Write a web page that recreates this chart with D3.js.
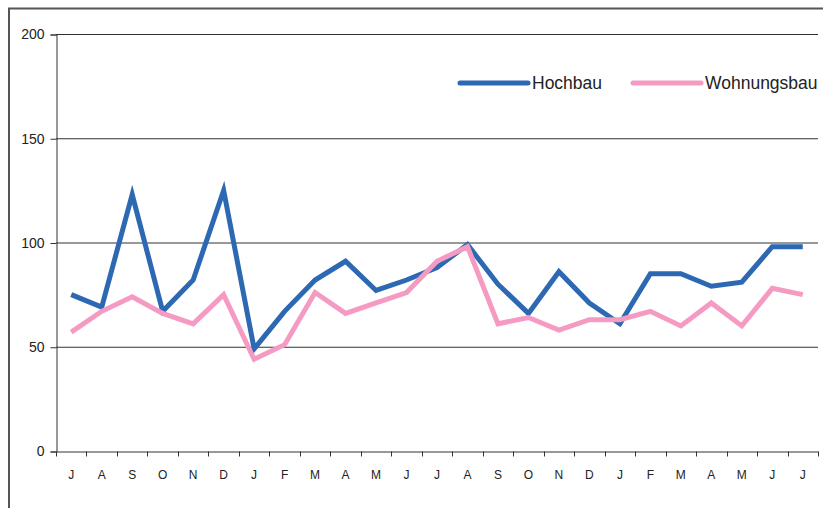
<!DOCTYPE html>
<html>
<head>
<meta charset="utf-8">
<script src="https://cdn.jsdelivr.net/npm/d3@7"></script>
<style>
  body { margin: 0; background: #fff; }
  text { font-family: "Liberation Sans", Arial, sans-serif; fill: #222; }
</style>
</head>
<body>
<svg id="chart" width="823" height="508"></svg>
<script>
// month initials, Jul .. Jul (25 months)
const months = ["J","A","S","O","N","D","J","F","M","A","M","J","J","A","S","O","N","D","J","F","M","A","M","J","J"];
const hochbau = [75, 69, 123, 67, 82, 125, 49, 67, 82, 91, 77, 82, 88, 99, 80, 66, 86, 71, 61, 85, 85, 79, 81, 98, 98];
const wohnungsbau = [57, 67, 74, 66, 61, 75, 44, 51, 76, 66, 71, 76, 91, 98, 61, 64, 58, 63, 63, 67, 60, 71, 60, 78, 75];
const yTicks = [0, 50, 100, 150, 200];
const seriesNames = ["Hochbau", "Wohnungsbau"];
const seriesColors = ["#2d68b2", "#f59bc3"];

const svg = d3.select("#chart");
const plotLeft = 56, plotRight = 818, plotTop = 34, plotBottom = 451;

// outer frame (only top and left edges are visible)
svg.append("path")
  .attr("d", "M9,509 L9,8.5 L824,8.5")
  .attr("fill", "none").attr("stroke", "#555").attr("stroke-width", 2);

const x = d3.scaleBand().domain(d3.range(months.length)).range([plotLeft, plotRight]);
const y = d3.scaleLinear().domain([0, 200]).range([plotBottom, plotTop]);

// grid lines
svg.append("g").selectAll("line")
  .data(yTicks.filter(d => d > 0))
  .enter().append("line")
  .attr("x1", plotLeft).attr("x2", plotRight)
  .attr("y1", d => y(d) + 0.5).attr("y2", d => y(d) + 0.5)
  .attr("stroke", "#333").attr("stroke-width", 1);

// y axis
const yAxis = svg.append("g")
  .attr("transform", "translate(" + (plotLeft + 0.5) + ",0.5)")
  .call(d3.axisLeft(y).tickValues(yTicks).tickSize(6).tickPadding(6));
yAxis.select(".domain").attr("stroke", "#333");
yAxis.selectAll(".tick line").attr("stroke", "#333");
yAxis.selectAll("text").attr("font-size", 14).attr("fill", "#222")
  .style("font-family", "'Liberation Sans', Arial, sans-serif");

// x axis: labels in band centres, ticks on band edges
const xAxis = svg.append("g")
  .attr("transform", "translate(0," + (plotBottom + 0.5) + ")")
  .call(d3.axisBottom(x).tickFormat(i => months[i]).tickSize(0).tickPadding(19).tickSizeOuter(0));
xAxis.select(".domain").attr("stroke", "#333");
xAxis.selectAll("text").attr("font-size", 12).attr("fill", "#222")
  .style("font-family", "'Liberation Sans', Arial, sans-serif");
xAxis.selectAll("line.edge")
  .data(d3.range(months.length + 1))
  .enter().append("line").attr("class", "edge")
  .attr("x1", i => Math.round(plotLeft + i * x.step()) + 0.5)
  .attr("x2", i => Math.round(plotLeft + i * x.step()) + 0.5)
  .attr("y1", 0).attr("y2", 5)
  .attr("stroke", "#333");

// lines
const line = d3.line()
  .x((d, i) => x(i) + x.bandwidth() / 2)
  .y(d => y(d));

[hochbau, wohnungsbau].forEach((data, k) => {
  svg.append("path")
    .datum(data)
    .attr("d", line)
    .attr("fill", "none")
    .attr("stroke", seriesColors[k])
    .attr("stroke-width", 5)
    .attr("stroke-linejoin", "miter")
    .attr("stroke-linecap", "butt");
});

// legend
const legendX = [460, 633];
seriesNames.forEach((name, k) => {
  const g = svg.append("g").attr("transform", "translate(" + legendX[k] + ",83)");
  g.append("line").attr("x1", 0).attr("x2", 68).attr("y1", 0).attr("y2", 0)
    .attr("stroke", seriesColors[k]).attr("stroke-width", 5).attr("stroke-linecap", "round");
  g.append("text").attr("x", 72).attr("y", 6).attr("font-size", 17.5).text(name);
});
</script>
</body>
</html>
